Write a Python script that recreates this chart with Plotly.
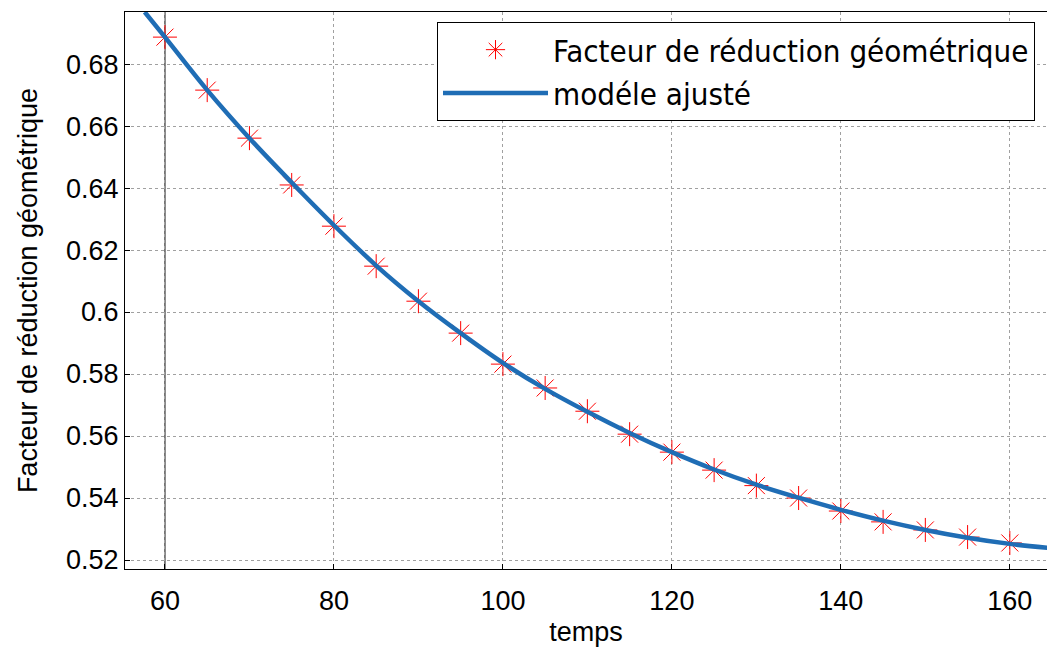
import plotly.graph_objects as go

temps = [60, 65, 70, 75, 80, 85, 90, 95, 100, 105, 110, 115, 120, 125, 130, 135, 140, 145, 150, 155, 160]
facteur = [0.6887, 0.6716, 0.6561, 0.6410, 0.6277, 0.6148, 0.6035, 0.5932, 0.5832, 0.5755, 0.5680,
           0.5606, 0.5548, 0.5490, 0.5440, 0.5400, 0.5358, 0.5323, 0.5297, 0.5274, 0.5255]

# fitted model curve
t_fit = [57.6, 60, 65, 70, 75, 80, 85, 90, 95, 100, 105, 110, 115, 120, 125, 130, 135, 140, 145, 150, 155, 160, 164.5]
y_fit = [0.6968, 0.6887, 0.6716, 0.6561, 0.6418, 0.6280, 0.6150, 0.6035, 0.5932, 0.5836, 0.5752, 0.5678,
         0.5610, 0.5548, 0.5492, 0.5443, 0.5401, 0.5362, 0.5327, 0.5297, 0.5272, 0.5252, 0.5239]

x_ticks = [60, 80, 100, 120, 140, 160]
y_ticks = [0.52, 0.54, 0.56, 0.58, 0.60, 0.62, 0.64, 0.66, 0.68]
y_ticktext = ["0.52", "0.54", "0.56", "0.58", "0.6", "0.62", "0.64", "0.66", "0.68"]

fig = go.Figure()
fig.add_trace(go.Scatter(
    x=temps, y=facteur, mode="markers", name="Facteur de réduction géométrique",
    marker=dict(symbol="asterisk-open", size=20, color="red", line=dict(color="red", width=1)),
))
fig.add_trace(go.Scatter(
    x=t_fit, y=y_fit, mode="lines", name="modéle ajusté",
    line=dict(color="#1f6db5", width=4.5, shape="spline"),
))

axis_font = dict(family="Liberation Sans, Arial, sans-serif", size=27, color="black")
fig.update_layout(
    width=1047, height=652,
    margin=dict(l=125, r=0, t=12, b=83),
    paper_bgcolor="white", plot_bgcolor="white",
    showlegend=True,
    legend=dict(
        x=(437 - 125) / 922, y=(569 - 22) / 557, xanchor="left", yanchor="top",
        bgcolor="white", bordercolor="black", borderwidth=1,
        font=dict(family="DejaVu Sans Condensed, Liberation Sans, sans-serif", size=31, color="black"),
        itemwidth=105, tracegroupgap=0,
    ),
    xaxis=dict(
        range=[55.27, 164.4], tickvals=x_ticks, ticks="inside", ticklen=5, tickcolor="black",
        showline=True, linecolor="black", linewidth=1, mirror=True,
        showgrid=True, gridcolor="#a0a0a0", griddash="dot", gridwidth=1,
        zeroline=False, tickfont=axis_font, ticklabelstandoff=8,
        title=dict(text="temps", font=axis_font, standoff=6),
    ),
    yaxis=dict(
        range=[0.5171, 0.6968], tickvals=y_ticks, ticktext=y_ticktext, ticks="inside", ticklen=5,
        tickcolor="black", showline=True, linecolor="black", linewidth=1, mirror=False,
        showgrid=True, gridcolor="#a0a0a0", griddash="dot", gridwidth=1,
        zeroline=False, tickfont=axis_font,
        title=dict(text="Facteur de réduction géométrique", font=axis_font, standoff=20),
    ),
)
fig.add_shape(type="line", xref="x", yref="paper", x0=60, x1=60, y0=0, y1=1,
              line=dict(color="black", width=1), layer="between")
fig.write_html("out.html", config={"displayModeBar": False},
               post_script="document.body.style.margin='0';")
